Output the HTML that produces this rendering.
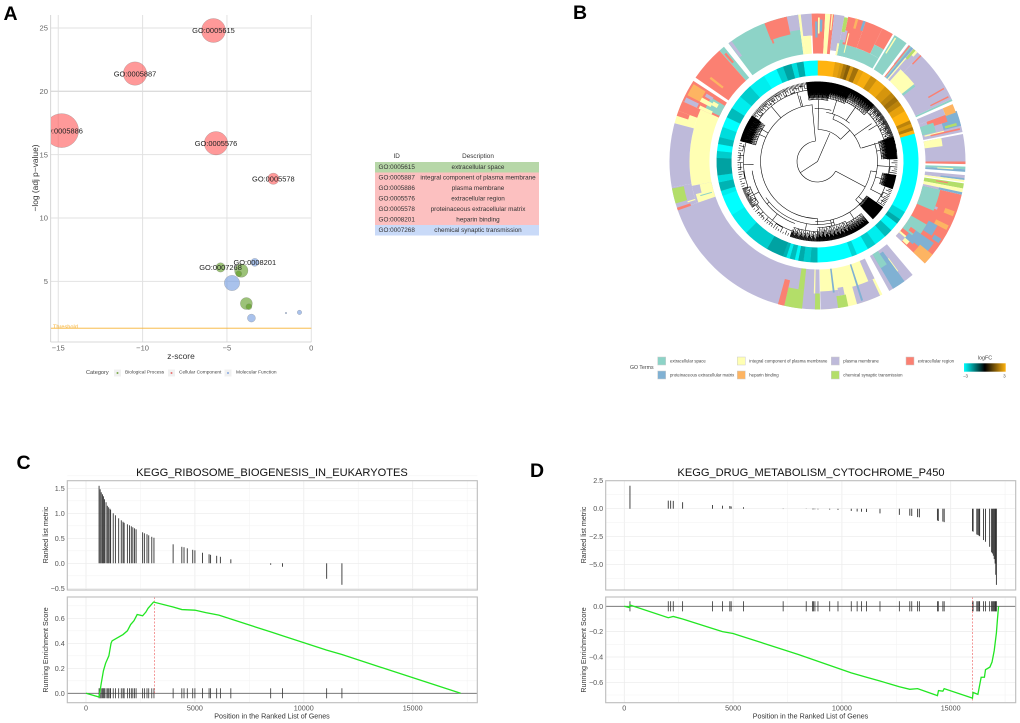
<!DOCTYPE html>
<html lang="en">
<head>
<meta charset="utf-8">
<title>GO and KEGG enrichment figure</title>
<style>
html,body{margin:0;padding:0;background:#fff;}
svg{display:block;font-family:"Liberation Sans",Arial,sans-serif;}
.panel{font-size:19.5px;font-weight:bold;fill:#000;}
.tick{font-size:7.2px;fill:#555;}
.tickA{font-size:7.6px;fill:#666;}
.axis{font-size:8.4px;fill:#333;}
.axisG{font-size:7.15px;fill:#333;}
.tbl{font-size:6.35px;fill:#333;text-anchor:middle;dominant-baseline:central;}
.leg{font-size:4.3px;fill:#444;dominant-baseline:central;}
.legA{font-size:4.8px;fill:#444;dominant-baseline:central;}
.title{font-size:11.1px;fill:#111;text-anchor:middle;}
</style>
</head>
<body>
<svg id="figure" xmlns="http://www.w3.org/2000/svg" width="1020" height="723" viewBox="0 0 1020 723">
<defs>
<clipPath id="clipA"><rect x="51" y="15" width="261" height="327"/></clipPath>
<linearGradient id="fcGrad" x1="0" x2="1" y1="0" y2="0"><stop offset="0" stop-color="#00ffff"/><stop offset=".5" stop-color="#000"/><stop offset="1" stop-color="#ffb30f"/></linearGradient>
</defs>
<rect width="1020" height="723" fill="#fff"/>

<text class="panel" x="3.5" y="20">A</text>
<text class="panel" x="573" y="19">B</text>
<text class="panel" x="16.5" y="469">C</text>
<text class="panel" x="530" y="477">D</text>

<g id="panelA"></g>
<text class="axis" x="181" y="359" text-anchor="middle">z-score</text>
<text class="axis" text-anchor="middle" transform="translate(38,178) rotate(-90)">−log (adj p−value)</text>
<g>
  <text class="legA" x="86" y="373" style="font-size:5.6px">Category</text>
  <rect x="114" y="369.500" width="7" height="7" fill="#f0f0f0"/>
  <circle cx="117.500" cy="373" r="1" fill="#7aa84a"/>
  <text class="legA" x="125" y="373">Biological Process</text>
  <rect x="168" y="369.500" width="7" height="7" fill="#f0f0f0"/>
  <circle cx="171.500" cy="373" r="1" fill="#e87070"/>
  <text class="legA" x="179" y="373">Cellular Component</text>
  <rect x="224.500" y="369.500" width="7" height="7" fill="#f0f0f0"/>
  <circle cx="228" cy="373" r="1" fill="#86a8e0"/>
  <text class="legA" x="236" y="373">Molecular Function</text>
</g>

<g>
  <text class="tbl" x="396.700" y="156.500">ID</text>
  <text class="tbl" x="478" y="156.500">Description</text>
  <rect x="375" y="162" width="164" height="10.500" fill="#b7d7a8"/>
  <rect x="375" y="172.500" width="164" height="10.500" fill="#fcc0c0"/>
  <rect x="375" y="183" width="164" height="10.500" fill="#fcc0c0"/>
  <rect x="375" y="193.500" width="164" height="10.500" fill="#fcc0c0"/>
  <rect x="375" y="204" width="164" height="10.500" fill="#fcc0c0"/>
  <rect x="375" y="214.500" width="164" height="10.500" fill="#fcc0c0"/>
  <rect x="375" y="225" width="164" height="10.500" fill="#c9daf8"/>
  <text class="tbl" x="396.700" y="167.250">GO:0005615</text>
  <text class="tbl" x="478" y="167.250">extracellular space</text>
  <text class="tbl" x="396.700" y="177.750">GO:0005887</text>
  <text class="tbl" x="478" y="177.750">integral component of plasma membrane</text>
  <text class="tbl" x="396.700" y="188.250">GO:0005886</text>
  <text class="tbl" x="478" y="188.250">plasma membrane</text>
  <text class="tbl" x="396.700" y="198.750">GO:0005576</text>
  <text class="tbl" x="478" y="198.750">extracellular region</text>
  <text class="tbl" x="396.700" y="209.250">GO:0005578</text>
  <text class="tbl" x="478" y="209.250">proteinaceous extracellular matrix</text>
  <text class="tbl" x="396.700" y="219.750">GO:0008201</text>
  <text class="tbl" x="478" y="219.750">heparin binding</text>
  <text class="tbl" x="396.700" y="230.250">GO:0007268</text>
  <text class="tbl" x="478" y="230.250">chemical synaptic transmission</text>
</g>

<g id="panelB"></g>
<g>
  <text class="leg" x="630" y="368" style="font-size:5.2px">GO Terms</text>
  <rect x="657.700" y="357" width="8" height="8" fill="#8dd3c7" stroke="#ccc" stroke-width=".5"/>
  <text class="leg" x="670" y="361">extracellular space</text>
  <rect x="737.300" y="357" width="8" height="8" fill="#ffffb3" stroke="#ccc" stroke-width=".5"/>
  <text class="leg" x="749.300" y="361">integral component of plasma membrane</text>
  <rect x="831.300" y="357" width="8" height="8" fill="#bebada" stroke="#ccc" stroke-width=".5"/>
  <text class="leg" x="843.300" y="361">plasma membrane</text>
  <rect x="906" y="357" width="8" height="8" fill="#fb8072" stroke="#ccc" stroke-width=".5"/>
  <text class="leg" x="917.700" y="361">extracellular region</text>
  <rect x="657.700" y="371" width="8" height="8" fill="#80b1d3" stroke="#ccc" stroke-width=".5"/>
  <text class="leg" x="670" y="375">proteinaceous extracellular matrix</text>
  <rect x="737.300" y="371" width="8" height="8" fill="#fdb462" stroke="#ccc" stroke-width=".5"/>
  <text class="leg" x="749.300" y="375">heparin binding</text>
  <rect x="831.300" y="371" width="8" height="8" fill="#b3de69" stroke="#ccc" stroke-width=".5"/>
  <text class="leg" x="843.300" y="375">chemical synaptic transmission</text>
  <text class="leg" x="985" y="358.500" text-anchor="middle" style="font-size:5.4px">logFC</text>
  <rect x="964" y="363.300" width="41.700" height="8.400" fill="url(#fcGrad)"/>
  <text class="leg" x="965.500" y="376" text-anchor="middle">−3</text>
  <text class="leg" x="1004.500" y="376" text-anchor="middle">3</text>
</g>

<g id="panelC"></g>
<text class="title" x="272" y="476">KEGG_RIBOSOME_BIOGENESIS_IN_EUKARYOTES</text>
<text class="axisG" x="272" y="718.500" text-anchor="middle">Position in the Ranked List of Genes</text>
<text class="axisG" text-anchor="middle" transform="translate(48,535) rotate(-90)">Ranked list metric</text>
<text class="axisG" text-anchor="middle" transform="translate(48,650) rotate(-90)">Running Enrichment Score</text>

<g id="panelD"></g>
<text class="title" x="811" y="476">KEGG_DRUG_METABOLISM_CYTOCHROME_P450</text>
<text class="axisG" x="810.500" y="718.500" text-anchor="middle">Position in the Ranked List of Genes</text>
<text class="axisG" text-anchor="middle" transform="translate(586,535) rotate(-90)">Ranked list metric</text>
<text class="axisG" text-anchor="middle" transform="translate(586,650) rotate(-90)">Running Enrichment Score</text>
</svg>

<script>
// ---------- Panel A data ----------
const bubbleZ     = [-5.8,-10.45,-14.8,-5.65,-2.25,-3.35,-5.38,-4.15,-4.3,-4.7,-3.85,-3.7,-3.55,-0.7,-1.5];
const bubbleLogP  = [24.8,21.4,16.9,15.9,13.1,6.5,6.1,5.85,5.6,4.87,3.25,3.0,2.1,2.55,2.5];
const bubbleCount = [144,137,289,137,32,16,22,45,9,59,36,9,16,5,0.7];
const bubbleCat   = [1,1,1,1,1,2,0,0,0,2,0,0,2,2,2];
const bubbleLabel = ['GO:0005615','GO:0005887','GO:0005886','GO:0005576','GO:0005578','GO:0008201','GO:0007268','','','','','','','',''];
const zTicks      = [-15,-10,-5,0];
const logPTicks   = [5,10,15,20,25];
const thresholdValue = 1.3;
const bubbleColors = ['#5a9a1e','#ff5555','#7099e0'];

// ---------- Panel B data ----------
const termColors = ['#8dd3c7','#ffffb3','#bebada','#fb8072','#80b1d3','#fdb462','#b3de69'];
// [start angle, end angle, stack share from, stack share to, term index]
const termBlocks = [
[-37,-7.5,0,1,0],[-21,-12,.55,1,3],[-13,-11,.7,1,3],[-12,-7.5,.62,1,2],[-36.8,-35.5,.55,1,2],[-20.8,-20,.45,.6,3],
[-41.5,-39.2,0,1,0],[-41,-40,.55,.85,3],[-55.5,-41.5,0,1,3],[-52.5,-51.5,.3,.7,5],
[-101,-66,0,.5,1],[-75,-66,.5,1,1],[-100,-75,.5,1,2],
[-66,-57,0,1,3],[-65,-59,0,.4,0],[-63,-58,.6,.95,5],[-66,-64,.6,.95,2],[-63,-61,.3,.6,1],[-66,-64.5,.2,.55,1],[-60,-58.5,.35,.55,2],[-62,-60,.15,.3,1],
[-70,-66,.5,1,3],[-72,-70,.7,1,3],
[179,251,0,1,2],[-109,-100,.5,1,2],[-109,-101,0,.5,2],[-106,-101,0,.3,1],[-109,-105,0,.45,1],[-106.5,-106,.05,.35,0],[-107.5,-107,.5,.7,1],
[-106.5,-100.5,.7,1,6],[-109.3,-108.2,.65,1,3],
[186,193,.53,1,6],[186,188.5,0,.53,6],[193,195.5,.35,1,3],[179,181,.6,1,6],[181,181.6,0,.6,1],
[154,178.8,0,1,1],[155,164.5,.55,1,2],[154,157,0,.55,2],[171,178.8,.55,1,2],[168,172,.7,1,6],[168.5,171,.5,.7,2],[172.5,173.3,0,.6,4],[161.8,162.6,0,.95,4],
[140,151,0,1,2],[144,149.3,.08,1,4],[146,149.3,0,.4,0],[143.6,144,.3,.7,1],
[103,133.5,0,1,3],[103,113,0,.45,0],[110.8,112,.45,.52,2],[110,112,.7,.95,5],[120,128,0,.45,0],[118,123,.45,.7,4],[125,130,.3,.85,4],[129,133.5,.6,1,5],[130,133,0,.35,1],[128,131,.2,.45,4],[131,133.5,0,.2,2],[116,118,.6,.95,5],[122,124,.75,.95,4],[125,127,.15,.3,3],
[90,91,0,1,3],[92,93,0,1,0],[93,94,0,1,4],[92.8,93.3,.3,.7,1],[95.3,97.2,0,1,2],[96.5,97.2,.4,1,4],[97.2,98,0,1,1],[98.5,100.5,0,1,6],[99,99.5,.3,.6,3],[100.5,102,0,1,1],[102,103,.4,1,4],[102,103,0,.4,2],
[79.3,90,0,1,2],[79.3,83,0,.45,1],
[70,78.5,0,1,2],[70,76,.55,1,4],[67,70.5,.7,.97,5],[67,70,0,.7,2],[70,73,.2,.7,3],[71.5,76,0,.35,0],[76.3,77,.05,.55,1],[76.8,77.5,.2,.95,3],[74.5,75.5,.6,.9,6],[65,65.8,0,1,0],
[44,65,0,1,2],[42,51.3,0,.4,1],[51.3,52.5,0,.38,0],[59.7,60.3,.5,.95,3],[63.4,64,.45,.95,3],
[38,44,.4,1,2],[40.8,42,0,.4,2],[38.2,38.8,0,1,3],[38.8,39.3,0,1,0],[39.3,40.2,0,1,4],[40.2,40.8,0,.7,1],[40.5,41.5,.7,1,6],[41.5,42.5,.85,1,1],[44,44.6,.7,1,3],
[31.4,37,0,1,0],[32,32.6,.5,.95,1],[10,30.6,0,.3,0],[19,26,.3,1,3],[26,30.6,.55,1,3],[26,30.6,.3,.55,0],
[-7.5,-6.5,0,1,1],[-6.5,-2.3,.45,1,2],[-6.5,-3,0,.45,1],[-2.3,3,0,1,3],[-1,0,.4,.8,4],[1,2,.55,.85,4],[0.2,.9,.5,.9,1],[3,5,0,1,1],[5,6.5,0,1,3],[5.5,6,.6,1,1],[6.5,10.5,.1,1,2],[9.5,10.5,0,.3,1],[10.5,12,.6,.97,6],[10.5,12,0,.6,2],[10.5,13,0,.4,0],[12,19,.3,1,3],[15,16,.75,1,5],[18,19,.75,1,4],[13,19,0,.3,0],[12,13,.35,.65,2],[13.5,14,.1,.6,1]
];
// [start angle, end angle, logFC]
const heatBands = [
[0,10,3],[10,13,2.7],[13,15,2.5],[15,17,2],[17,19,1.6],[19,21,2.5],[21,24,1.9],[24,27,2.7],[27,32,2.9],[32,36,2.4],[36,42,2.8],[42,47,2.5],[47,50,2.2],[50,53,1.9],[53,56,2.2],[56,60,2.7],[60,66,3],[66,68,2.2],[68,70,2.6],[70,72,2.1],[72,74,3],
[74,120,-3],[120,125,-2.5],[125,128,-2],[128,133,-2.9],[133,138,-2.2],[138,145,-2.8],[145,150,-2.4],[150,157,-3],[157,160,-2.5],[160,180,-3],
[180,184,-2.1],[184,188,-2.4],[188,191,-2],[191,193,-2.9],[193,196,-2.2],[196,198,-2.8],[198,200,-2.1],[200,210,-1.9],[210,225,-2.4],[225,238,-2.8],[238,250,-3],[250,253,-2.8],[253,258,-2.1],[258,262,-2.6],[262,272,-1.9],[272,276,-2.4],[276,280,-3],[280,284,-2.2],[284,290,-2.6],[290,296,-3],[296,302,-2.2],[302,310,-2.8],[310,318,-2.4],[318,328,-2.8],[328,336,-3],[336,340,-2.4],[340,345,-1.9],[345,348,-2.6],[348,352,-2],[352,360,-3]
];
const dendroArcs = [[237,354,20.5],[118,237,20.5],[1,46,32],[20,73,45],[-3,15,53],[10,40,50],[180,355,57],[100,135,54],[128,182,60],[165,235,63],[200,262,66],[72,118,60]];
const dendroStems = [[237,0,20.5],[23.5,0,31],[-5.5,20.5,57],[118,20.5,54],[1,32,53],[46,32,45],[20,45,50],[73,46,68],[180,57,63],[100,54,60],[135,54,60],[230,63,66],[300,57,66],[345,57,68],[55,45,66],[165,60,66]];
// [start angle, end angle, branch radius, leaf count, parent radius]
const dendroClades = [
[-8,10,62,110,53],[10,25,64,70,50],[25,45,66,70,50],[45,72,70,50,60],[72,88,64,90,60],[88,100,72,8,60],[100,110,66,60,60],[110,125,72,12,60],[125,136,60,100,54],[140,155,68,50,60],[155,180,66,60,60],[180,200,70,44,63],[200,235,74,18,66],[235,250,72,22,66],[250,285,74,20,64],[285,305,64,90,57],[305,335,72,34,57],[335,352,72,18,57]
];

// ---------- Panel C data ----------
const cRanks  = [600,650,700,760,800,850,920,980,1040,1100,1130,1250,1350,1500,1620,1700,1750,1900,2000,2080,2150,2230,2300,2600,2680,2800,2880,3020,3120,4000,4400,4500,4650,4900,5000,5350,5650,5720,6000,6170,6650,8480,9020,11050,11750];
const cMetric = [1.55,1.48,1.42,1.38,1.34,1.28,1.22,1.15,1.12,1.09,1.07,1.0,.96,.9,.86,.83,.81,.78,.76,.74,.72,.7,.68,.62,.6,.58,.56,.53,.51,.38,.33,.32,.3,.27,.26,.21,.18,.17,.15,.13,.08,-.03,-.07,-.31,-.43];
const cCurveRank  = [0,600,700,800,900,1050,1150,1200,1400,1700,1900,2050,2200,2350,2600,2750,2850,3100,4000,4400,5000,5500,6100,8500,11050,11750,17200];
const cCurveScore = [0,-.03,.08,.18,.24,.3,.4,.42,.44,.47,.5,.55,.58,.63,.62,.65,.68,.73,.69,.67,.665,.645,.625,.49,.345,.31,0];
const cPeakRank = 3150;
const cMetricTicks = [-.5,0,.5,1,1.5];
const cScoreTicks  = [0,.2,.4,.6];
const cMetricLabels = ['−0.5','0.0','0.5','1.0','1.5'];
const cScoreLabels  = ['0.0','0.2','0.4','0.6'];

// ---------- Panel D data ----------
const dRanks  = [260,2020,2130,2250,2680,4055,4510,4850,4910,5480,7300,8360,8650,8700,8760,8900,9440,9820,10430,10700,10900,11130,11750,12640,13120,13210,13480,13560,14390,14430,14640,14700,16000,16030,16200,16250,16300,16330,16510,16600,16790,16880,16920,16960,17000,17040,17070,17100];
const dMetric = [2.05,.72,.72,.7,.58,.33,.27,.24,.2,.13,-.03,-.02,-.05,-.05,-.05,-.06,-.08,-.1,-.2,-.25,-.27,-.3,-.42,-.55,-.62,-.65,-.75,-.77,-1.05,-1.1,-1.15,-1.2,-2,-2.05,-2.3,-2.35,-2.4,-2.45,-2.8,-2.95,-3.4,-3.9,-4.0,-4.2,-4.5,-4.9,-5.9,-6.8];
const dCurveRank  = [0,240,260,2020,2130,2250,2680,4055,4510,5000,8000,10000,10430,11130,11750,12640,13120,13480,14390,14440,14640,14700,16000,16030,16250,16400,16550,16600,16800,16900,17000,17100,17150,17200];
const dCurveScore = [0,-.01,.01,-.09,-.085,-.08,-.1,-.175,-.2,-.215,-.38,-.5,-.525,-.56,-.59,-.635,-.655,-.65,-.705,-.665,-.67,-.65,-.725,-.68,-.695,-.56,-.56,-.5,-.48,-.44,-.35,-.21,-.1,0];
const dPeakRank = 16000;
const dMetricTicks = [2.5,0,-2.5,-5];
const dScoreTicks  = [0,-.2,-.4,-.6];
const dMetricLabels = ['2.5','0.0','−2.5','−5.0'];
const dScoreLabels  = ['0.0','−0.2','−0.4','−0.6'];

const rankTicks  = [0,5000,10000,15000];
const rankLabels = ['0','5000','10000','15000'];

// ---------- helpers ----------
const NS = 'http://www.w3.org/2000/svg';
function mk(tag, attrs, parent, text){
  const e = document.createElementNS(NS, tag);
  for (const k in attrs) e.setAttribute(k, attrs[k]);
  if (text !== undefined) e.textContent = text;
  parent.appendChild(e);
  return e;
}

// ---------- Panel A ----------
(function(){
  const g = document.getElementById('panelA');
  const xA = z => 311.3 + z * 16.87;
  const yA = p => 344.7 - p * 12.67 + 0;
  const rA = n => Math.sqrt(n);
  zTicks.forEach(z => {
    const l = mk('line',{x1:xA(z),x2:xA(z),y1:15,y2:342,stroke:'#e2e2e2','stroke-width':1},g);
    
    
    const t = mk('text',{class:'tickA',x:xA(z),y:350.5,'text-anchor':'middle'},g,z===0?'0':'−'+Math.abs(z));
    
    
  });
  logPTicks.forEach(p => {
    const l = mk('line',{x1:51,x2:311.3,y1:yA(p),y2:yA(p),stroke:p===20?'#dcdcdc':'#e2e2e2','stroke-width':p===20?1.4:1},g);
    
    
    const t = mk('text',{class:'tickA',x:48,y:yA(p)+2.7,'text-anchor':'end'},g,String(p));
    
    
  });
  const ax1 = mk('line',{x1:50.7,x2:50.7,y1:15,y2:342,stroke:'#ccc','stroke-width':.8},g);
  
  
  const ax2 = mk('line',{x1:50.7,x2:311.3,y1:342,y2:342,stroke:'#ccc','stroke-width':.8},g);
  
  
  const th = mk('line',{x1:51,x2:311.3,y1:yA(thresholdValue),y2:yA(thresholdValue),stroke:'#f7b233','stroke-width':.9},g);
  
  
  const tt = mk('text',{x:53,y:yA(thresholdValue)+.5,'font-size':5.6,fill:'#f7b233'},g,'Threshold');
  
  
  const clip = mk('g',{'clip-path':'url(#clipA)'},g);
  
  
  bubbleZ.forEach((z,i) => {
    const c = mk('circle',{cx:xA(z),cy:yA(bubbleLogP[i]),r:rA(bubbleCount[i]),fill:bubbleColors[bubbleCat[i]],'fill-opacity':.6,stroke:'#777','stroke-width':.35,'stroke-opacity':.7},clip);
    
    
  });
  bubbleZ.forEach((z,i) => {
    if (!bubbleLabel[i]) return;
    const t = mk('text',{x:xA(z),y:yA(bubbleLogP[i])+2.7,'text-anchor':'middle','font-size':7.45,fill:'#222'},clip,bubbleLabel[i]);
    
    
  });
})();

// ---------- Panel B ----------
(function(){
  const g = document.getElementById('panelB');
  const cx = 817.5, cy = 161.5;
  const rad = d => d * Math.PI / 180;
  const px = (a,r) => (cx + r * Math.sin(rad(a))).toFixed(2);
  const py = (a,r) => (cy - r * Math.cos(rad(a))).toFixed(2);
  function sector(a0,a1,r0,r1){
    const big = (a1-a0) > 180 ? 1 : 0;
    return `M${px(a0,r0)} ${py(a0,r0)}L${px(a0,r1)} ${py(a0,r1)}A${r1} ${r1} 0 ${big} 1 ${px(a1,r1)} ${py(a1,r1)}L${px(a1,r0)} ${py(a1,r0)}A${r0} ${r0} 0 ${big} 0 ${px(a0,r0)} ${py(a0,r0)}Z`;
  }
  function arc(a0,a1,r){
    const big = (a1-a0) > 180 ? 1 : 0;
    return `M${px(a0,r)} ${py(a0,r)}A${r} ${r} 0 ${big} 1 ${px(a1,r)} ${py(a1,r)}`;
  }
  const rIn = 108, rOut = 148;
  const rOfShare = f => rIn + f * (rOut - rIn);
  termBlocks.forEach(b => {
    const p = mk('path',{d:sector(b[0],b[1],rOfShare(b[2]),rOfShare(b[3])),fill:termColors[b[4]]},g);
    
    
  });
  function fcColor(v){
    const t = Math.min(1, Math.abs(v)/3);
    return v < 0 ? `rgb(0,${Math.round(255*t)},${Math.round(255*t)})`
                 : `rgb(${Math.round(255*t)},${Math.round(179*t)},${Math.round(15*t)})`;
  }
  heatBands.forEach(b => {
    const p = mk('path',{d:sector(b[0],b[1]+.15,86,101),fill:fcColor(b[2])},g);
    
    
  });
  const dend = mk('g',{fill:'none',stroke:'#000','stroke-width':.55},g);
  
  
  dendroArcs.forEach(a => {
    const p = mk('path',{d:arc(a[0],a[1],a[2])},dend);
    
    
  });
  dendroStems.forEach(s => {
    const p = mk('path',{d:`M${px(s[0],s[1])} ${py(s[0],s[1])}L${px(s[0],s[2])} ${py(s[0],s[2])}`},dend);
    
    
  });
  const leafStep = [0,.5,.25,.7,.1,.6,.35];
  dendroClades.forEach(c => {
    const a0=c[0], a1=c[1], r=c[2], n=c[3], pr=c[4];
    const mid=(a0+a1)/2;
    let d = arc(a0,a1,r) + `M${px(mid,pr)} ${py(mid,pr)}L${px(mid,r)} ${py(mid,r)}`;
    const step=(a1-a0)/n;
    for(let i=0;i<=n;i++){
      const a=a0+i*step;
      const start=r+leafStep[i%7]*(80-r);
      d+=`M${px(a,start)} ${py(a,start)}L${px(a,80)} ${py(a,80)}`;
      if(i%4===0 && i<n){
        d+=arc(a,Math.min(a1,a+step*3),start);
      }
    }
    const p = mk('path',{d},dend);
    
    
  });
})();

// ---------- GSEA panels ----------
function drawGsea(gId, ranks, metric, curveRank, curveScore, peak, mTicks, mLabels, sTicks, sLabels, left, right, x0, xK, topZero, topK, botZero, botK, prefix){
  const g = document.getElementById(gId);
  const xS = v => x0 + v * xK;
  const yT = v => topZero - v * topK;
  const yB = v => botZero - v * botK;
  const topY0 = 480.7, topY1 = 590, botY0 = 597, botY1 = 702.7;
  [[topY0,topY1],[botY0,botY1]].forEach(pan => {
    const bg = mk('rect',{x:left,y:pan[0],width:right-left,height:pan[1]-pan[0],fill:'#fff'},g);
    
    
    rankTicks.forEach(v => {
      const maj = mk('line',{x1:xS(v),x2:xS(v),y1:pan[0],y2:pan[1],stroke:'#ebebeb','stroke-width':.8},g);
      
      
      const min = mk('line',{x1:xS(v+2500),x2:xS(v+2500),y1:pan[0],y2:pan[1],stroke:'#f3f3f3','stroke-width':.6},g);
      
      
    });
  });
  const mStep = Math.abs(mTicks[1]-mTicks[0])/2;
  mTicks.forEach((v,i) => {
    const l = mk('line',{x1:left,x2:right,y1:yT(v),y2:yT(v),stroke:'#ebebeb','stroke-width':.7},g);
    
    
    const mn = mk('line',{x1:left,x2:right,y1:yT(v+mStep*(mTicks[1]>mTicks[0]?1:-1)),y2:yT(v+mStep*(mTicks[1]>mTicks[0]?1:-1)),stroke:'#f3f3f3','stroke-width':.6},g);
    
    
    const t = mk('text',{class:'tick',x:left-2.5,y:yT(v)+2.5,'text-anchor':'end'},g,mLabels[i]);
    
    
  });
  sTicks.forEach((v,i) => {
    const l = mk('line',{x1:left,x2:right,y1:yB(v),y2:yB(v),stroke:'#ebebeb','stroke-width':.7},g);
    
    
    const mn = mk('line',{x1:left,x2:right,y1:yB(v+(sTicks[1]>sTicks[0]?.1:-.1)),y2:yB(v+(sTicks[1]>sTicks[0]?.1:-.1)),stroke:'#f3f3f3','stroke-width':.6},g);
    
    
    const t = mk('text',{class:'tick',x:left-2.5,y:yB(v)+2.5,'text-anchor':'end'},g,sLabels[i]);
    
    
  });
  rankTicks.forEach((v,i) => {
    const t = mk('text',{class:'tick',x:xS(v),y:710.5,'text-anchor':'middle'},g,rankLabels[i]);
    
    
  });
  ranks.forEach((r,i) => {
    const b = mk('line',{x1:xS(r),x2:xS(r),y1:yT(0),y2:yT(metric[i]),stroke:'#333','stroke-width':.9},g);
    
    
  });
  const zero = mk('line',{x1:left,x2:right,y1:yB(0),y2:yB(0),stroke:'#666','stroke-width':.8},g);
  
  
  ranks.forEach(r => {
    const t = mk('line',{x1:xS(r),x2:xS(r),y1:yB(0.04),y2:yB(-0.04),stroke:'#333','stroke-width':.8},g);
    
    
  });
  const pk = mk('line',{x1:xS(peak),x2:xS(peak),y1:botY0,y2:botY1,stroke:'#f07070','stroke-width':.7,'stroke-dasharray':'2 1.5'},g);
  if (peak < 10000) { pk.setAttribute('y2', yB(0)); }
  
  
  const pts = curveRank.map((r,i) => xS(r).toFixed(2)+','+yB(curveScore[i]).toFixed(2)).join(' ');
  const cv = mk('polyline',{points:pts,fill:'none',stroke:'#22e622','stroke-width':1.3},g);
  
  
  [[topY0,topY1],[botY0,botY1]].forEach(pan => {
    const br = mk('rect',{x:left,y:pan[0],width:right-left,height:pan[1]-pan[0],fill:'none',stroke:'#bdbdbd','stroke-width':1.1},g);
    
    
  });
}
drawGsea('panelC',cRanks,cMetric,cCurveRank,cCurveScore,cPeakRank,cMetricTicks,cMetricLabels,cScoreTicks,cScoreLabels,67.3,477.3,86,.02178,563.3,50,693.3,125,'gsea-c');
drawGsea('panelD',dRanks,dMetric,dCurveRank,dCurveScore,dPeakRank,dMetricTicks,dMetricLabels,dScoreTicks,dScoreLabels,605.7,1015.7,624.3,.02176,508.7,11.2,606.3,126.7,'gsea-d');
</script>
</body>
</html>
